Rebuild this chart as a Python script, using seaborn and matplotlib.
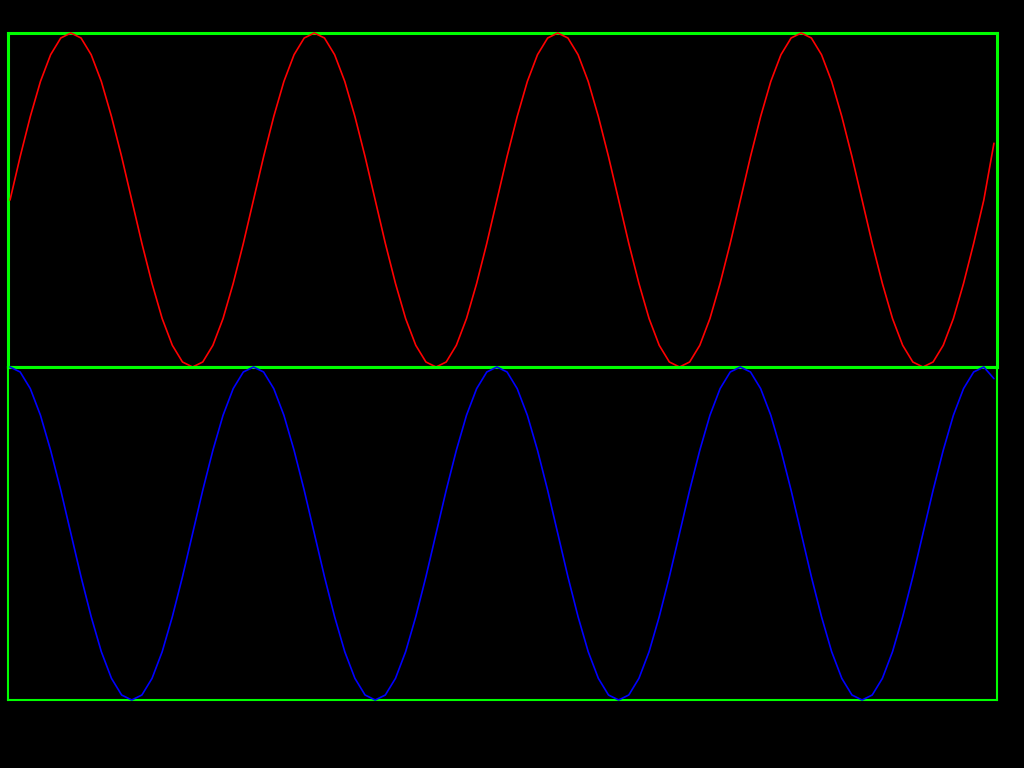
import numpy as np
import pandas as pd
import matplotlib
matplotlib.use("Agg")
import matplotlib.pyplot as plt
import seaborn as sns

# Sample index (one step = 1/24 of a period)
steps = list(range(98))

red_values = [
    0.00, 0.26, 0.50, 0.71, 0.87, 0.97, 1.00, 0.97, 0.87, 0.71, 0.50, 0.26,
    0.00, -0.26, -0.50, -0.71, -0.87, -0.97, -1.00, -0.97, -0.87, -0.71, -0.50, -0.26,
    0.00, 0.26, 0.50, 0.71, 0.87, 0.97, 1.00, 0.97, 0.87, 0.71, 0.50, 0.26,
    0.00, -0.26, -0.50, -0.71, -0.87, -0.97, -1.00, -0.97, -0.87, -0.71, -0.50, -0.26,
    0.00, 0.26, 0.50, 0.71, 0.87, 0.97, 1.00, 0.97, 0.87, 0.71, 0.50, 0.26,
    0.00, -0.26, -0.50, -0.71, -0.87, -0.97, -1.00, -0.97, -0.87, -0.71, -0.50, -0.26,
    0.00, 0.26, 0.50, 0.71, 0.87, 0.97, 1.00, 0.97, 0.87, 0.71, 0.50, 0.26,
    0.00, -0.26, -0.50, -0.71, -0.87, -0.97, -1.00, -0.97, -0.87, -0.71, -0.50, -0.26,
    0.00, 0.34,
]

blue_values = [
    1.00, 0.97, 0.87, 0.71, 0.50, 0.26, 0.00, -0.26, -0.50, -0.71, -0.87, -0.97,
    -1.00, -0.97, -0.87, -0.71, -0.50, -0.26, 0.00, 0.26, 0.50, 0.71, 0.87, 0.97,
    1.00, 0.97, 0.87, 0.71, 0.50, 0.26, 0.00, -0.26, -0.50, -0.71, -0.87, -0.97,
    -1.00, -0.97, -0.87, -0.71, -0.50, -0.26, 0.00, 0.26, 0.50, 0.71, 0.87, 0.97,
    1.00, 0.97, 0.87, 0.71, 0.50, 0.26, 0.00, -0.26, -0.50, -0.71, -0.87, -0.97,
    -1.00, -0.97, -0.87, -0.71, -0.50, -0.26, 0.00, 0.26, 0.50, 0.71, 0.87, 0.97,
    1.00, 0.97, 0.87, 0.71, 0.50, 0.26, 0.00, -0.26, -0.50, -0.71, -0.87, -0.97,
    -1.00, -0.97, -0.87, -0.71, -0.50, -0.26, 0.00, 0.26, 0.50, 0.71, 0.87, 0.97,
    1.00, 0.93,
]

df = pd.DataFrame({"step": steps, "red": red_values, "blue": blue_values})

sns.set_style("dark")
fig = plt.figure(figsize=(10.24, 7.68), dpi=100, facecolor="black")

left = 8 / 1024
width = (997 - 8) / 1024
ax_top = fig.add_axes([left, 1 - 367 / 768, width, 334 / 768])
ax_bot = fig.add_axes([left, 1 - 700 / 768, width, 333 / 768])

sns.lineplot(data=df, x="step", y="red", ax=ax_top, color="#ff0000",
             linewidth=1.2, zorder=3, clip_on=False)
sns.lineplot(data=df, x="step", y="blue", ax=ax_bot, color="#0000ff",
             linewidth=1.2, zorder=3, clip_on=False)

for ax, lw in [(ax_top, 2.2), (ax_bot, 1.5)]:
    # figure is already black, keep the axes patch transparent so the
    # thicker top-panel border is not hidden by the lower panel
    ax.patch.set_alpha(0)
    ax.set_xlim(-0.2, 97.3)
    ax.set_ylim(-1, 1)
    ax.set_xticks([])
    ax.set_yticks([])
    ax.set_xlabel("")
    ax.set_ylabel("")
    ax.grid(False)
    for spine in ax.spines.values():
        spine.set_visible(True)
        spine.set_color("#00ff00")
        spine.set_linewidth(lw)

fig.savefig("out.png", dpi=100, facecolor="black")
